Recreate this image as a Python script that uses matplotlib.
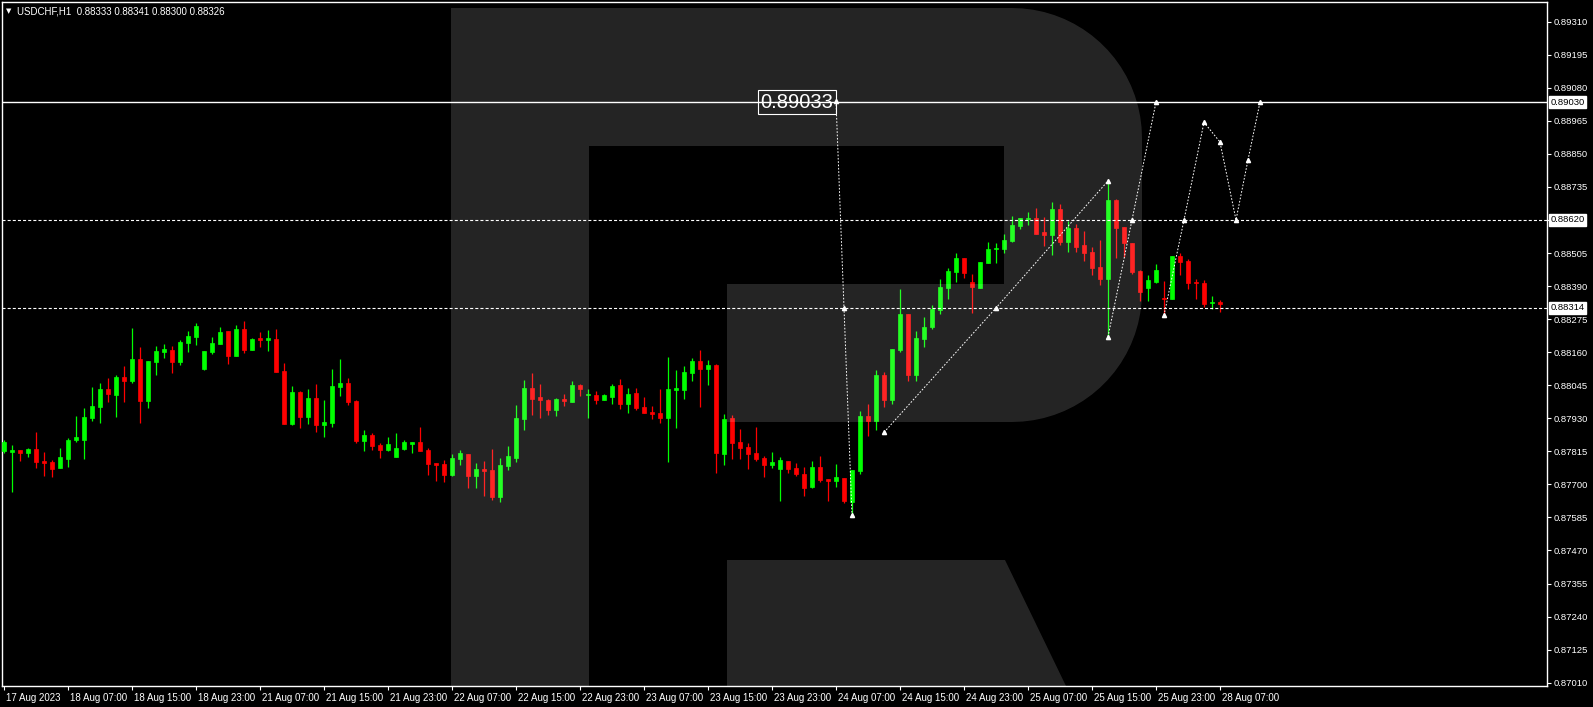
import numpy as np
import matplotlib.pyplot as plt
from matplotlib.path import Path
from matplotlib.patches import PathPatch
import matplotlib.transforms as mtransforms

plt.rcParams['font.family'] = ['Liberation Sans', 'DejaVu Sans']

# hourly candles USDCHF, 17 Aug 23:00 .. 28 Aug 07:00
opens = [0.87816, 0.87814, 0.87820, 0.87810, 0.87823, 0.87781, 0.87778, 0.87758, 0.87789, 0.87855,
         0.87855, 0.87932, 0.87970, 0.88032, 0.88011, 0.88074, 0.88060, 0.88136, 0.87991, 0.88126,
         0.88162, 0.88168, 0.88127, 0.88193, 0.88214, 0.88103, 0.88162, 0.88190, 0.88234, 0.88148,
         0.88241, 0.88169, 0.88209, 0.88203, 0.88206, 0.88095, 0.87911, 0.88021, 0.87936, 0.88001,
         0.87908, 0.87915, 0.88040, 0.88053, 0.87990, 0.87852, 0.87872, 0.87837, 0.87821, 0.87796,
         0.87824, 0.87842, 0.87847, 0.87820, 0.87774, 0.87771, 0.87734, 0.87789, 0.87806, 0.87730,
         0.87754, 0.87750, 0.87657, 0.87765, 0.87793, 0.87929, 0.88035, 0.88004, 0.87994, 0.87960,
         0.87997, 0.87988, 0.88046, 0.88012, 0.88011, 0.87995, 0.88005, 0.88046, 0.87981, 0.88018,
         0.87969, 0.87952, 0.87948, 0.87932, 0.88029, 0.88029, 0.88089, 0.88129, 0.88103, 0.88115,
         0.87807, 0.87931, 0.87847, 0.87830, 0.87809, 0.87792, 0.87768, 0.87755, 0.87781, 0.87757,
         0.87736, 0.87692, 0.87760, 0.87719, 0.87712, 0.87722, 0.87639, 0.87747, 0.87938, 0.87921,
         0.88081, 0.87994, 0.88168, 0.88293, 0.88081, 0.88206, 0.88248, 0.88307, 0.88383, 0.88439,
         0.88488, 0.88404, 0.88383, 0.88470, 0.88519, 0.88519, 0.88547, 0.88599, 0.88624, 0.88627,
         0.88578, 0.88569, 0.88658, 0.88545, 0.88592, 0.88534, 0.88509, 0.88456, 0.88416, 0.88690,
         0.88596, 0.88540, 0.88443, 0.88383, 0.88405, 0.88349, 0.88345, 0.88495, 0.88477, 0.88405,
         0.88401, 0.88330, 0.88333]
highs = [0.87854, 0.87837, 0.87820, 0.87827, 0.87882, 0.87812, 0.87785, 0.87827, 0.87861, 0.87938,
         0.87966, 0.88039, 0.88053, 0.88070, 0.88081, 0.88112, 0.88244, 0.88178, 0.88129, 0.88182,
         0.88189, 0.88182, 0.88202, 0.88234, 0.88262, 0.88164, 0.88213, 0.88248, 0.88234, 0.88255,
         0.88269, 0.88209, 0.88230, 0.88237, 0.88241, 0.88122, 0.88042, 0.88025, 0.88032, 0.88049,
         0.87994, 0.88102, 0.88136, 0.88070, 0.87994, 0.87889, 0.87879, 0.87844, 0.87865, 0.87879,
         0.87854, 0.87847, 0.87900, 0.87828, 0.87774, 0.87785, 0.87806, 0.87820, 0.87806, 0.87774,
         0.87781, 0.87823, 0.87792, 0.87834, 0.87976, 0.88063, 0.88088, 0.88049, 0.87997, 0.88001,
         0.88015, 0.88060, 0.88049, 0.88032, 0.88025, 0.88015, 0.88049, 0.88067, 0.88035, 0.88035,
         0.88004, 0.87973, 0.88032, 0.88143, 0.88098, 0.88112, 0.88140, 0.88168, 0.88133, 0.88119,
         0.87945, 0.87941, 0.87893, 0.87844, 0.87900, 0.87799, 0.87813, 0.87795, 0.87781, 0.87774,
         0.87760, 0.87781, 0.87800, 0.87719, 0.87771, 0.87722, 0.87750, 0.87955, 0.87980, 0.88098,
         0.88091, 0.88171, 0.88380, 0.88293, 0.88234, 0.88282, 0.88324, 0.88415, 0.88453, 0.88505,
         0.88488, 0.88432, 0.88474, 0.88544, 0.88540, 0.88571, 0.88634, 0.88627, 0.88648, 0.88662,
         0.88630, 0.88683, 0.88676, 0.88617, 0.88606, 0.88583, 0.88527, 0.88550, 0.88756, 0.88693,
         0.88596, 0.88540, 0.88446, 0.88430, 0.88467, 0.88408, 0.88495, 0.88506, 0.88484, 0.88415,
         0.88411, 0.88355, 0.88341]
lows = [0.87810, 0.87675, 0.87782, 0.87796, 0.87758, 0.87730, 0.87727, 0.87758, 0.87762, 0.87849,
        0.87789, 0.87922, 0.87915, 0.87988, 0.87936, 0.87988, 0.88054, 0.87915, 0.87967, 0.88082,
        0.88141, 0.88089, 0.88116, 0.88162, 0.88186, 0.88099, 0.88155, 0.88190, 0.88120, 0.88148,
        0.88158, 0.88169, 0.88179, 0.88165, 0.88092, 0.87911, 0.87908, 0.87897, 0.87911, 0.87883,
        0.87866, 0.87901, 0.88009, 0.87977, 0.87845, 0.87817, 0.87821, 0.87793, 0.87817, 0.87796,
        0.87821, 0.87810, 0.87817, 0.87734, 0.87713, 0.87709, 0.87730, 0.87768, 0.87688, 0.87688,
        0.87661, 0.87647, 0.87640, 0.87751, 0.87779, 0.87890, 0.87942, 0.87932, 0.87942, 0.87939,
        0.87974, 0.87988, 0.88009, 0.87932, 0.87981, 0.87995, 0.87981, 0.87963, 0.87949, 0.87960,
        0.87949, 0.87929, 0.87915, 0.87779, 0.87897, 0.87998, 0.88061, 0.87970, 0.88047, 0.87741,
        0.87768, 0.87789, 0.87789, 0.87755, 0.87782, 0.87727, 0.87758, 0.87643, 0.87741, 0.87730,
        0.87661, 0.87688, 0.87708, 0.87642, 0.87691, 0.87634, 0.87593, 0.87736, 0.87868, 0.87889,
        0.87969, 0.87980, 0.88161, 0.88060, 0.88060, 0.88178, 0.88241, 0.88293, 0.88345, 0.88404,
        0.88418, 0.88296, 0.88383, 0.88470, 0.88470, 0.88505, 0.88544, 0.88589, 0.88603, 0.88572,
        0.88531, 0.88499, 0.88534, 0.88510, 0.88510, 0.88478, 0.88430, 0.88395, 0.88213, 0.88489,
        0.88492, 0.88433, 0.88339, 0.88339, 0.88401, 0.88288, 0.88345, 0.88430, 0.88380, 0.88345,
        0.88318, 0.88311, 0.88300]
closes = [0.87847, 0.87820, 0.87810, 0.87823, 0.87779, 0.87775, 0.87755, 0.87795, 0.87854, 0.87865,
          0.87934, 0.87973, 0.88032, 0.88016, 0.88074, 0.88060, 0.88136, 0.87991, 0.88129, 0.88164,
          0.88171, 0.88127, 0.88195, 0.88216, 0.88251, 0.88164, 0.88192, 0.88230, 0.88148, 0.88241,
          0.88169, 0.88206, 0.88203, 0.88209, 0.88092, 0.87911, 0.88021, 0.87936, 0.88001, 0.87908,
          0.87917, 0.88042, 0.88053, 0.87988, 0.87852, 0.87872, 0.87835, 0.87821, 0.87841, 0.87827,
          0.87847, 0.87847, 0.87817, 0.87772, 0.87768, 0.87734, 0.87792, 0.87809, 0.87730, 0.87754,
          0.87748, 0.87657, 0.87767, 0.87799, 0.87931, 0.88035, 0.87998, 0.87995, 0.87960, 0.87997,
          0.87991, 0.88046, 0.88033, 0.88015, 0.87995, 0.88011, 0.88042, 0.87981, 0.88015, 0.87967,
          0.87949, 0.87946, 0.87932, 0.88032, 0.88035, 0.88091, 0.88129, 0.88103, 0.88115, 0.87810,
          0.87928, 0.87845, 0.87828, 0.87807, 0.87789, 0.87768, 0.87778, 0.87785, 0.87755, 0.87737,
          0.87688, 0.87760, 0.87715, 0.87712, 0.87726, 0.87642, 0.87750, 0.87938, 0.87921, 0.88081,
          0.87994, 0.88171, 0.88293, 0.88081, 0.88209, 0.88248, 0.88310, 0.88387, 0.88443, 0.88488,
          0.88436, 0.88387, 0.88474, 0.88519, 0.88523, 0.88550, 0.88603, 0.88627, 0.88627, 0.88572,
          0.88569, 0.88658, 0.88545, 0.88592, 0.88527, 0.88506, 0.88454, 0.88416, 0.88690, 0.88593,
          0.88541, 0.88439, 0.88369, 0.88410, 0.88446, 0.88345, 0.88495, 0.88475, 0.88402, 0.88400,
          0.88329, 0.88335, 0.88326]

time_labels = ['17 Aug 2023', '18 Aug 07:00', '18 Aug 15:00', '18 Aug 23:00', '21 Aug 07:00',
               '21 Aug 15:00', '21 Aug 23:00', '22 Aug 07:00', '22 Aug 15:00', '22 Aug 23:00',
               '23 Aug 07:00', '23 Aug 15:00', '23 Aug 23:00', '24 Aug 07:00', '24 Aug 15:00',
               '24 Aug 23:00', '25 Aug 07:00', '25 Aug 15:00', '25 Aug 23:00', '28 Aug 07:00']
label_every = 8

price_ticks = [0.87010, 0.87125, 0.87240, 0.87355, 0.87470, 0.87585, 0.87700, 0.87815, 0.87930,
               0.88045, 0.88160, 0.88275, 0.88390, 0.88505, 0.88620, 0.88735, 0.88850, 0.88965,
               0.89080, 0.89195, 0.89310]

target_level = 0.89030
dashed_levels = [0.88620, 0.88314]
target_text = '0.89033'

# forecast arrows (bar index, price)
paths = [
    ([104, 105, 106], [0.89033, 0.88314, 0.87593]),
    ([110, 124, 138], [0.87881, 0.88314, 0.88756]),
    ([138, 141, 144], [0.88213, 0.88620, 0.89030]),
    ([145, 147.5, 150, 152, 154, 155.5, 157],
     [0.88288, 0.88620, 0.88960, 0.88891, 0.88620, 0.88829, 0.89030]),
]

W, H = 1593, 707
fig = plt.figure(figsize=(W / 100, H / 100), dpi=100, facecolor='black')
ax = fig.add_axes([2 / W, 21 / H, 1545 / W, 684 / H], facecolor='black')

n = len(opens)
x = np.arange(n)
o = np.array(opens); c = np.array(closes)
up = c >= o
cols = np.where(up, '#00ff00', '#ff0000')

ax.vlines(x, lows, highs, colors=cols, lw=0.9, zorder=2)
ax.bar(x, np.abs(c - o), bottom=np.minimum(o, c), width=0.56, color=cols,
       edgecolor=cols, linewidth=0.5, zorder=3)

ax.set_xlim(-0.25, 192.875)
ax.set_ylim(0.869984, 0.893784)

# background logo (pixel coords of the chart area)
def px(xp, yp):
    return ((xp - 2) / 1545, (686 - yp) / 684)

r = 130
t1 = np.linspace(np.pi / 2, 0, 20)
t2 = np.linspace(0, -np.pi / 2, 20)
outer = [(451, 686), (451, 8)]
outer += [(1012 + r * np.cos(t), 138 - r * np.sin(t)) for t in t1]
outer += [(1012 + r * np.cos(t), 292 - r * np.sin(t)) for t in t2]
outer += [(727, 422), (727, 284), (1004, 284), (1004, 146), (589, 146), (589, 686), (451, 686)]
leg = [(727, 560), (1005, 560), (1066, 686), (727, 686), (727, 560)]
for poly in (outer, leg):
    verts = [px(a, b) for a, b in poly]
    ax.add_patch(PathPatch(Path(verts), transform=ax.transAxes, facecolor='white',
                           alpha=0.145, edgecolor='none', zorder=5))

# level lines
plt.rcParams['lines.scale_dashes'] = False
ax.axhline(target_level, color='white', lw=1.0, zorder=6)
for lv in dashed_levels:
    ax.axhline(lv, color='white', lw=0.8, dashes=(2.2, 1.5), zorder=6)

for xs, ys in paths:
    ax.plot(xs, ys, color='white', lw=0.7, dashes=(1.2, 1.2), zorder=7)
    ax.plot(xs, ys, ls='none', marker='^', ms=3, color='white', zorder=8)

ax.text(103.7, target_level, target_text, ha='right', va='center', color='white',
        fontsize=14.5, zorder=9,
        bbox=dict(boxstyle='square,pad=0.12', facecolor='none', edgecolor='white', lw=0.8))

# right axis labels
ytr = ax.get_yaxis_transform()
for lv in [target_level] + dashed_levels:
    ax.text(1.0021, lv, f'{lv:.5f}', transform=ytr, ha='left', va='center', color='black',
            fontsize=6.8, clip_on=False,
            bbox=dict(boxstyle='square,pad=0.15', facecolor='white', edgecolor='white'))

for s in ax.spines.values():
    s.set_color('white')
    s.set_linewidth(1)

ax.yaxis.tick_right()
ax.set_yticks(price_ticks)
ax.set_yticklabels([f'{p:.5f}' for p in price_ticks])
ax.tick_params(axis='y', direction='out', length=3, width=0.8, colors='white',
               labelsize=6.8, pad=1.5)

ax.set_xticks(np.arange(0, label_every * len(time_labels), label_every))
ax.set_xticklabels(time_labels)
ax.tick_params(axis='x', direction='out', length=3, width=0.8, colors='white',
               labelsize=7, pad=2)
off = mtransforms.ScaledTranslation(2 / 100, 0, fig.dpi_scale_trans)
for lab in ax.get_xticklabels():
    lab.set_horizontalalignment('left')
    lab.set_transform(lab.get_transform() + off)

fig.text(6 / W, 1 - 11 / H, '\u25bc', color='white', fontsize=5, va='center',
         family='DejaVu Sans')
fig.text(17 / W, 1 - 11 / H,
         f'USDCHF,H1  {opens[-1]:.5f} {highs[-1]:.5f} {lows[-1]:.5f} {closes[-1]:.5f}',
         color='white', fontsize=7, va='center')

fig.savefig('out.png', dpi=100, facecolor='black')
